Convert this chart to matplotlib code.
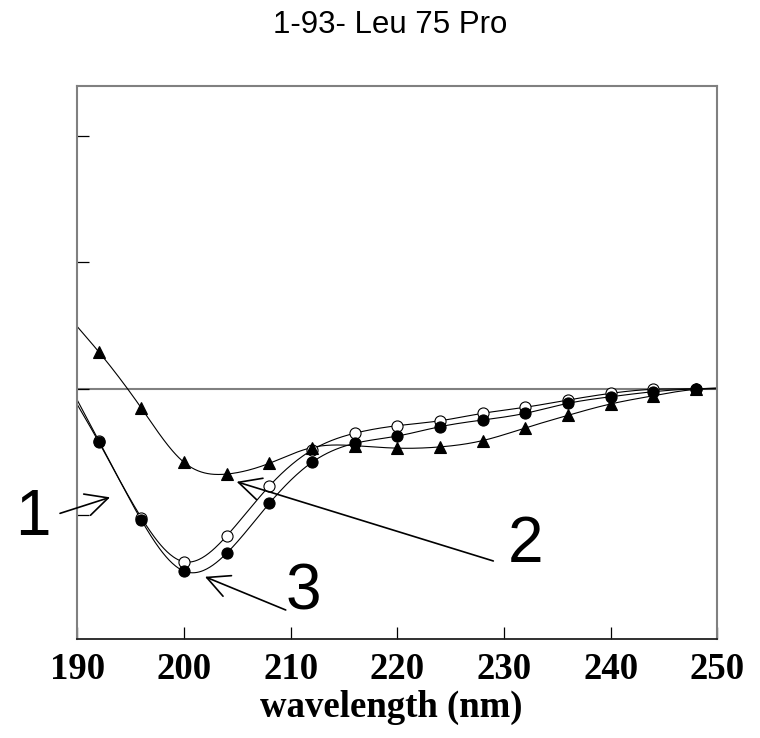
import numpy as np
import matplotlib
matplotlib.use("Agg")
import matplotlib.pyplot as plt

# Far-UV CD spectra (ellipticity, arbitrary units x1000)
wavelength = [190, 192, 196, 200, 204, 208, 212, 216, 220, 224, 228, 232, 236, 240, 244, 248, 250]
curve1_open = [-0.9, -4.1, -10.2, -13.69, -11.65, -7.70, -4.85, -3.52, -2.92, -2.53, -1.94, -1.46, -0.89, -0.36, -0.04, 0.0, 0.05]
curve2_tri = [4.92, 2.94, -1.52, -5.82, -6.75, -5.90, -4.65, -4.5, -4.7, -4.6, -4.1, -3.1, -2.1, -1.2, -0.55, -0.05, 0.0]
curve3_filled = [-1.25, -4.19, -10.39, -14.43, -13.02, -9.07, -5.82, -4.32, -3.74, -3.0, -2.47, -1.94, -1.15, -0.63, -0.23, 0.0, 0.05]

x_ticks = [190, 200, 210, 220, 230, 240, 250]
y_ticks = [-10, 0, 10, 20]
title_text = "1-93- Leu 75 Pro"
x_label = "wavelength (nm)"


def natural_spline(x, y, n=600):
    """Smooth natural cubic spline through (x, y)."""
    x = np.asarray(x, float)
    y = np.asarray(y, float)
    k = len(x)
    h = np.diff(x)
    A = np.zeros((k, k))
    b = np.zeros(k)
    A[0, 0] = A[-1, -1] = 1.0
    for i in range(1, k - 1):
        A[i, i - 1] = h[i - 1]
        A[i, i] = 2 * (h[i - 1] + h[i])
        A[i, i + 1] = h[i]
        b[i] = 3 * ((y[i + 1] - y[i]) / h[i] - (y[i] - y[i - 1]) / h[i - 1])
    c = np.linalg.solve(A, b)
    bb = (y[1:] - y[:-1]) / h - h * (2 * c[:-1] + c[1:]) / 3
    d = (c[1:] - c[:-1]) / (3 * h)
    xs = np.linspace(x[0], x[-1], n)
    idx = np.clip(np.searchsorted(x, xs) - 1, 0, k - 2)
    dx = xs - x[idx]
    ys = y[idx] + bb[idx] * dx + c[idx] * dx ** 2 + d[idx] * dx ** 3
    return xs, ys


fig = plt.figure(figsize=(7.6, 7.38), dpi=100)
ax = fig.add_axes([77.3 / 760, 1 - 639.3 / 738, 640 / 760, (639.3 - 86) / 738])

ax.axhline(0, color="#808080", lw=1.5, zorder=1)

x_arr = np.array(wavelength)
for series, mk, face, ms, z in [
    (curve1_open, "o", "white", 8, 3),
    (curve2_tri, "^", "black", 8.5, 4),
    (curve3_filled, "o", "black", 8, 5),
]:
    xs, ys = natural_spline(wavelength, series)
    ax.plot(xs, ys, color="black", lw=0.8, zorder=2)
    ax.plot(x_arr[1:-1], np.array(series)[1:-1], linestyle="none", marker=mk,
            markersize=ms, markerfacecolor=face, markeredgecolor="black",
            markeredgewidth=0.8, zorder=z)

ax.set_xlim(190, 250)
ax.set_ylim(-19.83, 23.97)
ax.set_xticks(x_ticks)
ax.set_yticks(y_ticks)
ax.set_yticklabels([])
ax.tick_params(axis="both", direction="in", length=8.5, width=0.9, color="black")
ax.tick_params(axis="x", pad=9, labelsize=26.5)
for lab in ax.get_xticklabels():
    lab.set_fontfamily("Liberation Serif")
    lab.set_fontweight("bold")

for side in ["left", "top", "right"]:
    ax.spines[side].set_color("#808080")
    ax.spines[side].set_linewidth(1.5)
ax.spines["bottom"].set_color("#202020")
ax.spines["bottom"].set_linewidth(1.3)

fig.text(390 / 760, 1 - 33 / 738, title_text, ha="center", va="baseline",
         fontsize=22.5, family="Liberation Sans")
fig.text(390.8 / 760, 1 - 717 / 738, x_label, ha="center", va="baseline",
         fontsize=26.5, family="Liberation Serif", fontweight="bold")

# Curve labels and pointer arrows
arrow_kw = dict(arrowstyle="->,head_length=1.6,head_width=0.8", mutation_scale=10,
                lw=1.2, color="black", shrinkA=0, shrinkB=0)
labels = [
    ("1", (185.8, -11.58), (188.38, -9.86), (193.07, -8.59)),
    ("2", (232.07, -13.71), (229.0, -13.63), (204.94, -7.36)),
    ("3", (211.16, -17.51), (209.54, -17.51), (201.97, -14.88)),
]
for txt, pos, tail, head in labels:
    ax.text(pos[0], pos[1], txt, ha="center", va="baseline", fontsize=46,
            family="Liberation Sans", clip_on=False)
    ax.annotate("", xy=head, xytext=tail, arrowprops=arrow_kw, annotation_clip=False)

fig.savefig("out.png", dpi=100)
